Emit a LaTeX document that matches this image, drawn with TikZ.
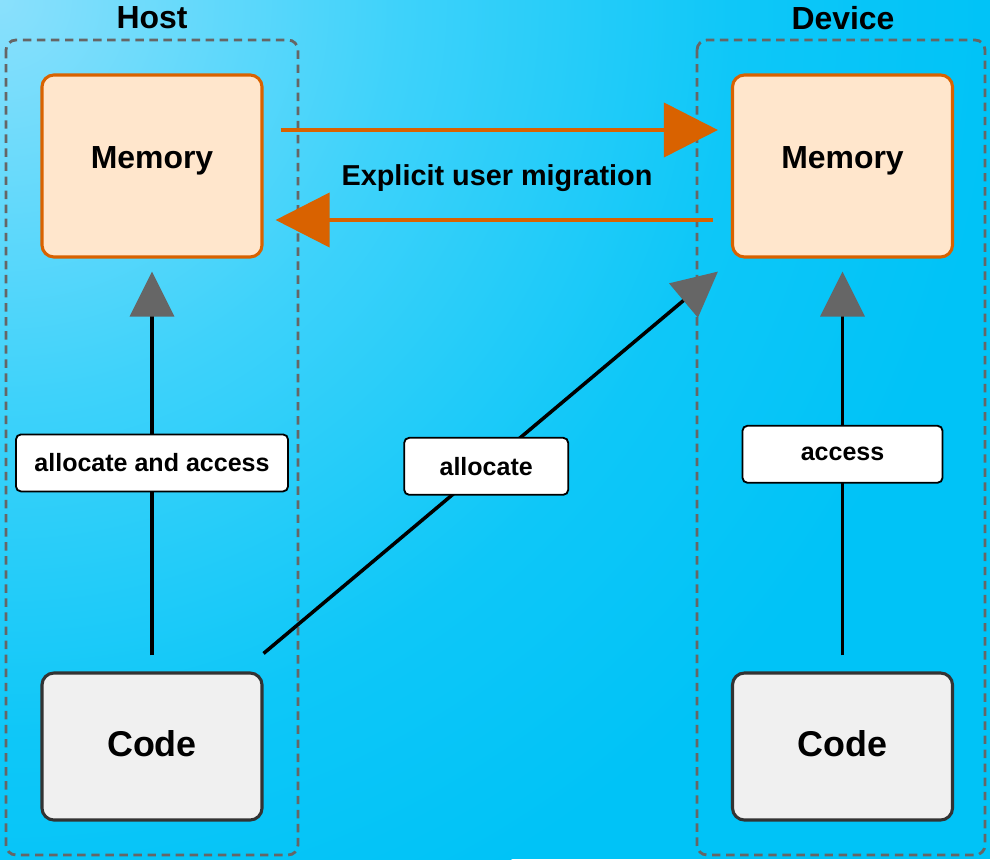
\documentclass[tikz,border=0pt]{standalone}
\usepackage{fontspec}
\setmainfont{Liberation Sans}
\usetikzlibrary{arrows.meta,calc}
\definecolor{bgLight}{RGB}{138,224,252}
\definecolor{bgSoft}{RGB}{62,210,250}
\definecolor{bgMid}{RGB}{14,199,248}
\definecolor{bgDark}{RGB}{0,195,247}
\definecolor{memFill}{RGB}{255,230,204}
\definecolor{memDraw}{RGB}{217,98,0}
\definecolor{codeFill}{RGB}{240,240,240}
\definecolor{codeDraw}{RGB}{51,51,51}
\definecolor{headGray}{RGB}{102,102,102}
\pgfdeclareradialshading{bgglow}{\pgfpoint{0bp}{0bp}}{color(0bp)=(bgLight); color(10bp)=(bgSoft); color(18.5bp)=(bgMid); color(25bp)=(bgDark); color(50bp)=(bgDark)}
\tikzset{memory/.style={draw=memDraw, fill=memFill, line width=2.2pt, rounded corners=0.3cm, minimum width=5.5cm, minimum height=4.55cm, text depth=0.42cm, font=\fontsize{22.7}{27}\selectfont\bfseries}}
\tikzset{code/.style={draw=codeDraw, fill=codeFill, line width=2.2pt, rounded corners=0.3cm, minimum width=5.5cm, minimum height=3.675cm, text depth=0.15cm, font=\fontsize{25.5}{30}\selectfont\bfseries}}
\tikzset{tag/.style={draw=black, fill=white, line width=1.3pt, rounded corners=0.125cm, minimum height=1.425cm, font=\fontsize{17.8}{21}\selectfont\bfseries}}
\tikzset{title/.style={font=\fontsize{22.7}{27}\selectfont\bfseries}}
\tikzset{group/.style={draw=headGray, line width=2pt, dash pattern=on 6pt off 4pt, rounded corners=0.25cm}}
\tikzset{migrate/.style={draw=memDraw, line width=2.8pt, -{Triangle[length=1.35cm,width=1.35cm]}}}
\tikzset{use/.style={draw=black, line width=2.5pt, -{Triangle[length=1.125cm,width=1.1cm,color=headGray]}}}

\begin{document}
\begin{tikzpicture}[x=0.025cm, y=-0.025cm]
   \useasboundingbox (0,0) rectangle (990,859);
   \fill[bgDark] (0,0) rectangle (990,859);
   \begin{scope}
     \clip (0,0) rectangle (990,859);
     \shade[shading=bgglow] (0,0) circle (1000);
   \end{scope}
   % host and device groups
   \draw[group] (6,40) rectangle (298,855);
   \draw[group] (697,40) rectangle (985,855);
   \node[title] (host) at (152,18) {Host};
   \node[title] (device) at (843,18) {Device};
   % memories and code
   \node[memory] (hmem) at (152,166) {Memory};
   \node[memory] (dmem) at (842.5,166) {Memory};
   \node[code] (hcode) at (152,746.5) {Code};
   \node[code] (dcode) at (842.5,746.5) {Code};
   % migration
   \draw[migrate] ($(hmem.east)+(17,-36)$) -- ($(dmem.west)+(-13,-36)$);
   \draw[migrate] ($(dmem.west)+(-18,54)$) -- ($(hmem.east)+(12,54)$);
   \node[font=\fontsize{20.5}{24}\selectfont\bfseries] (mig) at (497,178) {Explicit user migration};
   % allocations
   \draw[use, shorten <=0.4cm, shorten >=0.325cm] (hcode) -- (hmem)
     node[tag, minimum width=6.8cm, pos=0.505] (hlbl) {allocate and access};
   \draw[use] ($(hcode.north east)+(0,-18)$) -- ($(dmem.south west)+(-13,13)$)
     node[tag, minimum width=4.1cm, pos=0.49] (albl) {allocate};
   \draw[use, shorten <=0.4cm, shorten >=0.325cm] (dcode) -- (dmem)
     node[tag, minimum width=5cm, pos=0.526] (dlbl) {access};
\end{tikzpicture}
\end{document}
